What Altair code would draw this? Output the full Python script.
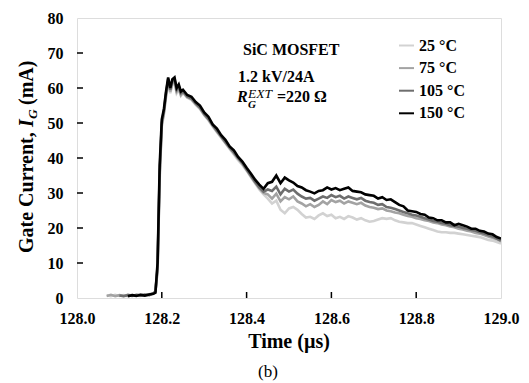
import altair as alt
import pandas as pd

# ---------------- data ----------------
times = [128.07, 128.08, 128.09, 128.10, 128.11, 128.12, 128.13, 128.14, 128.15, 128.16, 128.17, 128.18,
         128.185, 128.19, 128.195, 128.20, 128.205, 128.21, 128.215, 128.22, 128.225, 128.23, 128.235, 128.24, 128.245,
         128.25, 128.26, 128.27, 128.28, 128.29, 128.30, 128.31, 128.32, 128.33, 128.34,
         128.35, 128.36, 128.37, 128.38, 128.39, 128.40, 128.41, 128.42, 128.43, 128.44,
         128.45, 128.46, 128.47, 128.48, 128.49, 128.50, 128.51, 128.52, 128.53, 128.54,
         128.55, 128.56, 128.57, 128.58, 128.59, 128.60, 128.61, 128.62, 128.63, 128.64,
         128.65, 128.66, 128.67, 128.68, 128.69, 128.70, 128.71, 128.72, 128.73, 128.74,
         128.75, 128.76, 128.77, 128.78, 128.79, 128.80, 128.81, 128.82, 128.83, 128.84,
         128.85, 128.86, 128.87, 128.88, 128.89, 128.90, 128.91, 128.92, 128.93, 128.94,
         128.95, 128.96, 128.97, 128.98, 128.99, 129.00]

ig_25 = [0.8, 0.5, 0.9, 0.6, 0.8, 0.5, 0.9, 0.7, 0.6, 0.9, 0.8, 1.2,
         2, 7.5, 34, 49, 52.5, 57.5, 61.5, 58.5, 61, 61.5, 58.5, 59.5, 57.8,
         58.6, 57.2, 56.6, 55.2, 54, 52.2, 50.8, 49, 47.4, 45.8,
         44.2, 42.6, 41, 39.4, 38, 36.4, 34.6, 32.8, 31, 29.6,
         28.4, 27, 27.8, 25.2, 24.2, 25.6, 26, 25.2, 24, 23,
         23.2, 22.6, 23.6, 24.2, 23.4, 23.8, 22.8, 23.2, 22.6, 23.4,
         23, 22.4, 22.8, 22.2, 21.8, 22, 22.4, 22.8, 22.6, 22.8,
         22.2, 21.8, 21.6, 21.4, 21.4, 21, 20.6, 20.2, 19.8, 19.4,
         19, 18.8, 18.8, 18.6, 18.6, 18.4, 18.2, 18, 17.8, 17.6,
         17.4, 17, 16.6, 16.4, 16, 15.6]

ig_75 = [0.6, 0.9, 0.5, 0.8, 0.6, 0.9, 0.7, 0.8, 1.0, 0.7, 1.1, 1.3,
         2, 8, 35, 49.5, 53, 58, 62, 59, 61.5, 62, 59, 60, 58,
         58.8, 57.4, 56.8, 55.4, 54.2, 52.4, 51, 49.2, 47.6, 46,
         44.4, 42.8, 41.4, 39.8, 38.4, 36.6, 34.8, 33, 31.4, 30,
         29.6, 28.4, 29.8, 27.6, 28.8, 28.2, 29, 27.6, 27, 26.2,
         26.8, 26, 26.6, 27.6, 26.8, 28, 27.4, 27.8, 27, 27.6,
         27.2, 26.8, 27.2, 26.4, 26, 25.8, 25.4, 25.6, 25, 24.8,
         24.4, 24.2, 23.8, 23.4, 23.2, 22.8, 22.6, 22.2, 22, 21.6,
         21.4, 21, 20.8, 20.4, 20.2, 19.8, 19.6, 19.2, 19, 18.6,
         18.4, 18, 17.6, 17.2, 16.8, 16.2]

ig_105 = [None, None, None, 0.7, 0.5, 0.8, 0.6, 0.9, 0.7, 1.0, 0.8, 1.3,
          1.8, 9, 36, 50, 53.5, 58.5, 62.5, 59.5, 62, 62.5, 59.5, 60.5, 58.5,
          59, 57.6, 57, 55.6, 54.4, 52.6, 51.2, 49.4, 47.8, 46.2,
          44.6, 43, 41.6, 40, 38.6, 36.8, 35, 33.2, 31.6, 30.4,
          31, 30.6, 31.8, 29.6, 31.2, 30.4, 31, 29.8, 29, 28.4,
          28.6, 27.8, 28.4, 29, 28.6, 29.4, 28.8, 29.2, 28.4, 29,
          28.6, 28.2, 28.6, 27.8, 27.4, 27.2, 26.6, 26.8, 26, 25.8,
          25.4, 25, 24.6, 24.2, 23.8, 23.6, 23.2, 22.8, 22.4, 22,
          21.8, 21.4, 21.2, 20.8, 20.6, 20.4, 20, 19.8, 19.4, 19.2,
          18.8, 18.4, 18, 17.6, 17, 16.4]

ig_150 = [None, None, None, None, None, 0.5, 0.8, 0.6, 0.9, 0.7, 1.0, 1.2,
          1.5, 10, 38, 51, 54, 59, 63, 60, 62.5, 63, 60, 61, 59,
          59.5, 58, 57.5, 56, 55, 53, 51.8, 49.6, 48.4, 46.5,
          45.2, 43.3, 42.2, 40.3, 39, 37.2, 35.6, 33.8, 32.4, 31.2,
          32.8, 33.2, 35, 32.8, 34.4, 33.6, 33, 32, 31.6, 30.8,
          30.4, 29.9, 30.6, 30.8, 31.6, 31, 31.4, 30.8, 31.2, 31.6,
          30.6, 30.4, 30.2, 29.6, 29.4, 29.2, 28.4, 28.8, 28, 28.2,
          27.4, 26.6, 26.2, 25, 24.8, 24.6, 24, 23.8, 23, 22.8,
          22.2, 22.2, 21.6, 21.6, 20.8, 21.2, 20.8, 20.4, 19.8, 19.8,
          19.2, 19, 18.4, 18.2, 17.4, 17]

series_labels = ["25 °C", "75 °C", "105 °C", "150 °C"]
series_colors = ["#d2d2d2", "#a3a3a3", "#6e6e6e", "#000000"]
series_values = [ig_25, ig_75, ig_105, ig_150]

x_ticks = [128.0, 128.2, 128.4, 128.6, 128.8, 129.0]
y_ticks = [0, 10, 20, 30, 40, 50, 60, 70, 80]
x_inner_ticks = [128.2, 128.4, 128.6, 128.8]
y_inner_ticks = [10, 20, 30, 40, 50, 60, 70]

# ---------------- chart ----------------
FONT = "Liberation Serif"
W, H = 424, 280

x_scale = alt.Scale(domain=[128.0, 129.0], nice=False, zero=False)
y_scale = alt.Scale(domain=[0, 80], nice=False)
x_axis = alt.Axis(values=x_ticks, format=".1f", title=None, grid=False, ticks=False, domain=False,
                  labelFont=FONT, labelFontWeight="bold", labelFontSize=16, labelColor="black",
                  labelPadding=12, labelFlush=False, labelOverlap=False)
y_axis = alt.Axis(values=y_ticks, format="d", title=None, grid=False, ticks=False, domain=False,
                  labelFont=FONT, labelFontWeight="bold", labelFontSize=16, labelColor="black",
                  labelPadding=14, labelOverlap=False)
color_scale = alt.Scale(domain=series_labels, range=series_colors)
legend = alt.Legend(title=None, orient="none", legendX=321, legendY=19, symbolType="stroke",
                    symbolSize=225, symbolStrokeWidth=2, labelFont=FONT, labelFontWeight="bold",
                    labelFontSize=16, labelColor="black", labelOffset=4, rowPadding=5.6, padding=0,
                    symbolOpacity=1)

layers = []
for lab, vals in zip(series_labels, series_values):
    assert len(vals) == len(times)
    d = pd.DataFrame({"t": times, "ig": vals, "series": lab}).dropna()
    layers.append(
        alt.Chart(d).mark_line(strokeWidth=2.6, clip=True, strokeJoin="miter").encode(
            x=alt.X("t:Q", scale=x_scale, axis=x_axis),
            y=alt.Y("ig:Q", scale=y_scale, axis=y_axis),
            color=alt.Color("series:N", scale=color_scale, legend=legend),
        )
    )

xt = alt.Chart(pd.DataFrame({"t": x_inner_ticks})).mark_rule(color="black", strokeWidth=1.5).encode(
    x=alt.X("t:Q", scale=x_scale, axis=x_axis), y=alt.value(H), y2=alt.value(H - 6))
yt = alt.Chart(pd.DataFrame({"ig": y_inner_ticks})).mark_rule(color="black", strokeWidth=1.5).encode(
    y=alt.Y("ig:Q", scale=y_scale, axis=y_axis), x=alt.value(0), x2=alt.value(6))


def txt(s, x, y, size=16, weight="bold", style="normal", angle=0, align="left", baseline="alphabetic"):
    return alt.Chart(pd.DataFrame({"s": [s]})).mark_text(
        font=FONT, fontSize=size, fontWeight=weight, fontStyle=style, angle=angle,
        align=align, baseline=baseline, color="black"
    ).encode(text="s:N", x=alt.value(x), y=alt.value(y))


ox, oy = 77, 18  # plot origin in page pixels
texts = [
    txt("SiC MOSFET", 243 - ox, 54.5 - oy),
    txt("1.2 kV/24A", 238 - ox, 81.5 - oy),
    txt("R", 237 - ox, 102 - oy, style="italic"),
    txt("G", 248 - ox, 108 - oy, size=11, style="italic"),
    txt("EXT", 248 - ox, 97.5 - oy, size=13.5, style="italic", weight="normal"),
    txt("=220 Ω", 277 - ox, 102 - oy),
    # y title pieces (rotated)
    txt("Gate Current,", 33 - ox, 253 - oy, size=20, angle=270),
    txt("I", 33 - ox, 127 - oy, size=20, angle=270, style="italic"),
    txt("G", 37 - ox, 119 - oy, size=13.5, angle=270, style="italic"),
    txt("(mA)", 33 - ox, 105 - oy, size=20, angle=270),
    # x title and caption
    txt("Time (µs)", W / 2, 348 - oy, size=20, align="center"),
    txt("(b)", 268 - ox, 377 - oy, size=17, weight="normal", align="center"),
]

chart = alt.layer(*layers, xt, yt, *texts).properties(
    width=W, height=H,
    autosize="none",
    padding={"left": ox, "top": oy, "right": 529 - ox - W, "bottom": 383 - oy - H},
).configure_view(stroke="black", strokeWidth=1.5).configure_axis(
    labelFont=FONT, labelFontWeight="bold", labelFontSize=16, labelColor="black"
).configure(background="white")

chart.save("out.html", embed_options={"renderer": "svg", "actions": False})
